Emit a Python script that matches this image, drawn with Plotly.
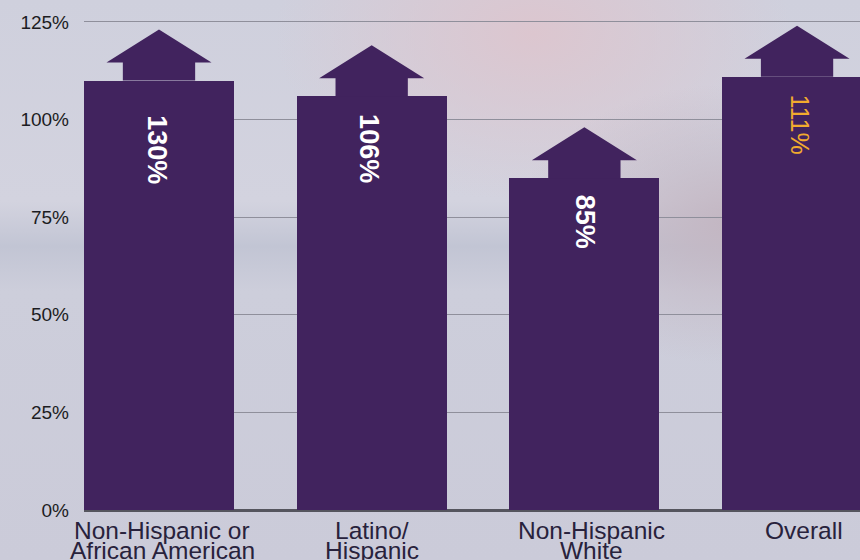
import base64
import plotly.graph_objects as go

# ---- data ----
categories = ["Non-Hispanic or<br>African American", "Latino/<br>Hispanic",
              "Non-Hispanic<br>White", "Overall"]
bar_values = [110, 106, 85, 111]          # bar heights (%)
value_labels = ["130%", "106%", "85%", "111%"]
label_colors = ["#ffffff", "#ffffff", "#ffffff", "#f2ab2e"]
label_bold = [True, True, True, False]
y_ticks = [0, 25, 50, 75, 100, 125]

# ---- style constants ----
BAR_COLOR = "#41235e"
BAR_WIDTH = 0.705
NECK_HALF = 0.170      # arrow neck half width (x units)
HEAD_HALF = 0.247      # arrow head half width (x units)
NECK_H = 4.6           # neck height (% units)
HEAD_H = 8.45          # head height (% units)
LABEL_GAP_PX = [33, 16, 15, 16]        # gap between bar top and its label
LABEL_DX = [-0.01, -0.01, 0.0, 0.015]  # small horizontal nudges of value labels
LABEL_SIZE = [27, 27, 27, 25]
CAT_DX = [0.015, 0.0, 0.035, 0.033]    # nudges of category labels
X_RANGE = [-0.3526, 3.296]
Y_RANGE = [0, 128.07]

xs = list(range(len(categories)))

fig = go.Figure()
fig.add_trace(go.Bar(x=xs, y=bar_values, width=BAR_WIDTH,
                     marker=dict(color=BAR_COLOR, line=dict(width=0)),
                     hoverinfo="skip"))

shapes = []
for x, v in zip(xs, bar_values):
    b = v + NECK_H
    t = b + HEAD_H
    path = (f"M {x-NECK_HALF} {v} L {x-NECK_HALF} {b} L {x-HEAD_HALF} {b} "
            f"L {x} {t} L {x+HEAD_HALF} {b} L {x+NECK_HALF} {b} L {x+NECK_HALF} {v} Z")
    shapes.append(dict(type="path", path=path, xref="x", yref="y",
                       fillcolor=BAR_COLOR, line=dict(width=0), layer="above"))

annotations = []
for i, (x, v, lab) in enumerate(zip(xs, bar_values, value_labels)):
    txt = f"<b>{lab}</b>" if label_bold[i] else lab
    annotations.append(dict(x=x + LABEL_DX[i], y=v, xref="x", yref="y", text=txt,
                            showarrow=False, textangle=90, yanchor="top",
                            xanchor="center", yshift=-LABEL_GAP_PX[i],
                            font=dict(family="Liberation Sans, Arial, sans-serif",
                                      size=LABEL_SIZE[i], color=label_colors[i])))

# category labels as tight two-line annotations below the axis
for x, cat in zip(xs, categories):
    lines = cat.split("<br>")
    for j, line in enumerate(lines):
        annotations.append(dict(x=x + CAT_DX[x], y=0, xref="x", yref="paper",
                                text=line, showarrow=False, yanchor="top",
                                xanchor="center", yshift=-5 - 20 * j,
                                font=dict(family="Liberation Sans, Arial, sans-serif",
                                          size=24.5, color="#28223c")))

# soft blurred background
svg = """<svg xmlns='http://www.w3.org/2000/svg' width='860' height='560'>
<defs>
<radialGradient id='p' cx='0.62' cy='0.06' r='0.3'>
<stop offset='0' stop-color='#dcc6cf' stop-opacity='1'/>
<stop offset='1' stop-color='#dcc6cf' stop-opacity='0'/></radialGradient>
<radialGradient id='q' cx='0.85' cy='0.4' r='0.25'>
<stop offset='0' stop-color='#c3b6c2' stop-opacity='1'/>
<stop offset='1' stop-color='#c3b6c2' stop-opacity='0'/></radialGradient>
<linearGradient id='g' x1='0' y1='0' x2='0' y2='1'>
<stop offset='0' stop-color='#cfd0dd'/>
<stop offset='0.36' stop-color='#d3d3df'/>
<stop offset='0.44' stop-color='#c2c5d4'/>
<stop offset='0.52' stop-color='#cdcedb'/>
<stop offset='1' stop-color='#cbcbd9'/></linearGradient>
</defs>
<rect width='860' height='560' fill='url(#g)'/>
<rect width='860' height='560' fill='url(#p)'/>
<rect width='860' height='560' fill='url(#q)'/>
</svg>"""
src = "data:image/svg+xml;base64," + base64.b64encode(svg.encode()).decode()

fig.update_layout(
    width=860, height=560,
    margin=dict(l=84, r=0, t=10, b=50),
    paper_bgcolor="#cdcddb", plot_bgcolor="rgba(0,0,0,0)",
    showlegend=False, bargap=0,
    shapes=shapes, annotations=annotations,
    images=[dict(source=src, xref="paper", yref="paper",
                 x=-84 / 776, y=1 + 10 / 500, sizex=860 / 776, sizey=560 / 500,
                 sizing="stretch", xanchor="left", yanchor="top", layer="below")],
    xaxis=dict(range=X_RANGE, tickvals=xs, showticklabels=False,
               showgrid=False, zeroline=False, showline=False, fixedrange=True),
    yaxis=dict(range=Y_RANGE, tickvals=y_ticks,
               ticktext=[f"{t}%" for t in y_ticks],
               showgrid=True, gridcolor="#8f8f9b", gridwidth=1.3,
               zeroline=True, zerolinecolor="#55555e", zerolinewidth=2.5,
               showline=False, ticklabelstandoff=14,
               tickfont=dict(family="Liberation Sans, Arial, sans-serif",
                             size=19, color="#1c1c22")),
)

fig.write_html("out.html", config={"displayModeBar": False},
               post_script="document.body.style.margin='0';document.body.style.overflow='hidden';")
